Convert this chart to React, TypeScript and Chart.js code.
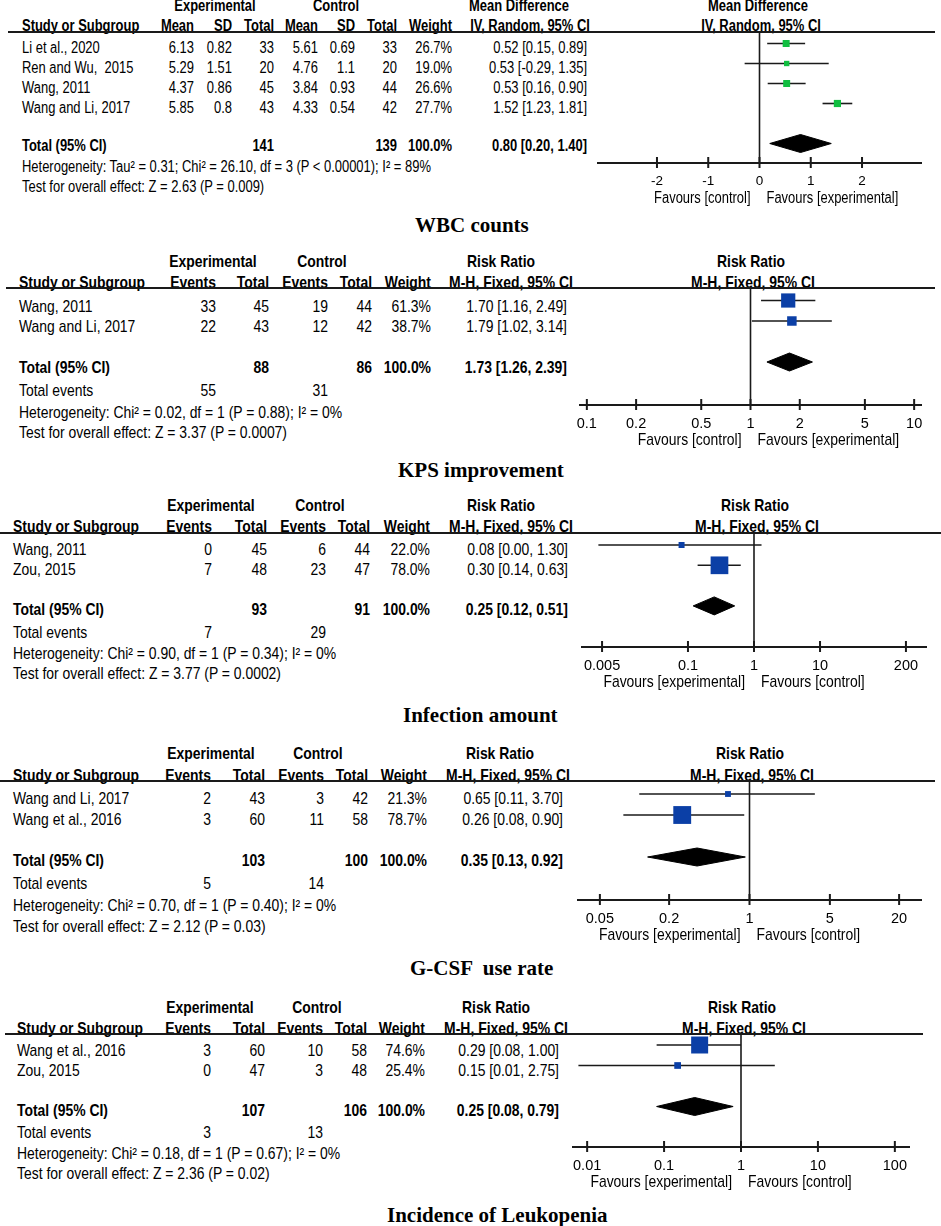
import React, { useEffect, useRef } from 'react';
import { Chart, registerables } from 'chart.js';

Chart.register(...registerables);

// ---------------- DATA ----------------
// A. WBC counts — Mean Difference (IV, Random, 95% CI)
const wbcStudies = ['Li et al., 2020', 'Ren and Wu,  2015', 'Wang, 2011', 'Wang and Li, 2017'];
const wbcExpMean = [6.13, 5.29, 4.37, 5.85];
const wbcExpSD = [0.82, 1.51, 0.86, 0.8];
const wbcExpN = [33, 20, 45, 43];
const wbcCtlMean = [5.61, 4.76, 3.84, 4.33];
const wbcCtlSD = [0.69, 1.1, 0.93, 0.54];
const wbcCtlN = [33, 20, 44, 42];
const wbcWeight = [26.7, 19.0, 26.6, 27.7];
const wbcEst = [0.52, 0.53, 0.53, 1.52];
const wbcLow = [0.15, -0.29, 0.16, 1.23];
const wbcHigh = [0.89, 1.35, 0.9, 1.81];
const wbcPooled = [0.8, 0.2, 1.4];
const wbcTotalN = [141, 139];
const wbcTicks = [-2, -1, 0, 1, 2];
const wbcStats = [
  'Heterogeneity: Tau² = 0.31; Chi² = 26.10, df = 3 (P < 0.00001); I² = 89%',
  'Test for overall effect: Z = 2.63 (P = 0.009)',
];

// B. KPS improvement — Risk Ratio (M-H, Fixed)
const kpsStudies = ['Wang, 2011', 'Wang and Li, 2017'];
const kpsExpEv = [33, 22];
const kpsExpN = [45, 43];
const kpsCtlEv = [19, 12];
const kpsCtlN = [44, 42];
const kpsWeight = [61.3, 38.7];
const kpsEst = [1.7, 1.79];
const kpsLow = [1.16, 1.02];
const kpsHigh = [2.49, 3.14];
const kpsPooled = [1.73, 1.26, 2.39];
const kpsTotalN = [88, 86];
const kpsTotalEv = [55, 31];
const kpsTicks = [0.1, 0.2, 0.5, 1, 2, 5, 10];
const kpsStats = [
  'Heterogeneity: Chi² = 0.02, df = 1 (P = 0.88); I² = 0%',
  'Test for overall effect: Z = 3.37 (P = 0.0007)',
];

// C. Infection amount
const infStudies = ['Wang, 2011', 'Zou, 2015'];
const infExpEv = [0, 7];
const infExpN = [45, 48];
const infCtlEv = [6, 23];
const infCtlN = [44, 47];
const infWeight = [22.0, 78.0];
const infEst = [0.08, 0.3];
const infLow = [0.0044, 0.14];
const infHigh = [1.3, 0.63];
const infPooled = [0.25, 0.12, 0.51];
const infTotalN = [93, 91];
const infTotalEv = [7, 29];
const infTicks = [0.005, 0.1, 1, 10, 200];
const infStats = [
  'Heterogeneity: Chi² = 0.90, df = 1 (P = 0.34); I² = 0%',
  'Test for overall effect: Z = 3.77 (P = 0.0002)',
];

// D. G-CSF use rate
const gcsfStudies = ['Wang and Li, 2017', 'Wang et al., 2016'];
const gcsfExpEv = [2, 3];
const gcsfExpN = [43, 60];
const gcsfCtlEv = [3, 11];
const gcsfCtlN = [42, 58];
const gcsfWeight = [21.3, 78.7];
const gcsfEst = [0.65, 0.26];
const gcsfLow = [0.11, 0.08];
const gcsfHigh = [3.7, 0.9];
const gcsfPooled = [0.35, 0.13, 0.92];
const gcsfTotalN = [103, 100];
const gcsfTotalEv = [5, 14];
const gcsfTicks = [0.05, 0.2, 1, 5, 20];
const gcsfStats = [
  'Heterogeneity: Chi² = 0.70, df = 1 (P = 0.40); I² = 0%',
  'Test for overall effect: Z = 2.12 (P = 0.03)',
];

// E. Incidence of Leukopenia
const leuStudies = ['Wang et al., 2016', 'Zou, 2015'];
const leuExpEv = [3, 0];
const leuExpN = [60, 47];
const leuCtlEv = [10, 3];
const leuCtlN = [58, 48];
const leuWeight = [74.6, 25.4];
const leuEst = [0.29, 0.15];
const leuLow = [0.08, 0.0077];
const leuHigh = [1.0, 2.75];
const leuPooled = [0.25, 0.08, 0.79];
const leuTotalN = [107, 106];
const leuTotalEv = [3, 13];
const leuTicks = [0.01, 0.1, 1, 10, 100];
const leuStats = [
  'Heterogeneity: Chi² = 0.18, df = 1 (P = 0.67); I² = 0%',
  'Test for overall effect: Z = 2.36 (P = 0.02)',
];

// ---------------- STYLE ----------------
const SANS = '"Liberation Sans", Arial, Helvetica, sans-serif';
const SERIF = '"Liberation Serif", "Times New Roman", serif';
const GREEN = '#10be40';
const BLUE = '#0b3fa6';
const INK = '#1a1a1a';
const PADX = 30;
const AXIS_H = 54;
const DIAMOND_HALF = 9;

// ---------------- HELPERS ----------------
const pct = (w: number) => `${w.toFixed(1)}%`;
const sumPct = (ws: number[]) => pct(ws.reduce((a, b) => a + b, 0));
const fmtCI = (e: number, l: number, h: number) => `${e.toFixed(2)} [${l.toFixed(2)}, ${h.toFixed(2)}]`;
const str = (v: number) => String(v);

interface ChartSpec {
  log: boolean;
  span: number;
  ticks: number[];
  nullValue: number;
  est: number[];
  low: number[];
  high: number[];
  weight: number[];
  pooled: number[];
  color: string;
  favours: [string, string];
  axisLeft: number;
  axisRight: number;
  topY: number;
  axisY: number;
  dotRow1: number;
  dotPitch: number;
  tickFont: number;
  labFont: number;
  labSx: number;
}

interface PanelDef {
  title: string;
  titleX: number;
  titleY: number;
  fs: number;
  sx: number;
  head1Y: number;
  head2Y: number;
  lineY: number;
  lineX1: number;
  lineX2: number;
  studyX: number;
  row1Y: number;
  rowPitch: number;
  totalY: number;
  eventsY?: number;
  hetY: number;
  testY: number;
  groupCx: number[];
  colHeads: string[];
  colRight: number[];
  colCells: string[][];
  colTotals: string[];
  colEvents?: string[];
  studies: string[];
  ciHeads: string[];
  ciHeadCx: number[];
  ciRight: number;
  ciCells: string[];
  ciTotal: string;
  plotHeadCx: number[];
  stats: string[];
  chart: ChartSpec;
}

type Align = 'left' | 'right' | 'center';

function Txt(props: { x: number; y: number; text: string; align?: Align; bold?: boolean; size: number; sx: number; family?: string }) {
  const { x, y, text, align = 'left', bold = false, size, sx, family = SANS } = props;
  const tx = align === 'left' ? '0' : align === 'right' ? '-100%' : '-50%';
  return (
    <div
      style={{
        position: 'absolute',
        left: x,
        top: y,
        whiteSpace: 'pre',
        fontFamily: family,
        fontSize: size,
        fontWeight: bold ? 700 : 400,
        lineHeight: 1,
        color: '#000',
        transform: `translate(${tx}, -50%) scaleX(${sx})`,
        transformOrigin: `${align} center`,
      }}
    >
      {text}
    </div>
  );
}

function ForestChart({ s }: { s: ChartSpec }) {
  const ref = useRef<HTMLCanvasElement | null>(null);
  const L = Math.round(s.axisLeft);
  const R = Math.round(s.axisRight);
  const top = Math.round(s.topY);
  const bottom = Math.round(s.axisY);
  const w = R - L + 2 * PADX;
  const h = bottom - top + AXIS_H;

  useEffect(() => {
    if (!ref.current) return;
    const yMin = 1 - (s.dotRow1 - top) / s.dotPitch;
    const yMax = 1 + (bottom - s.dotRow1) / s.dotPitch;
    const dh = DIAMOND_HALF / s.dotPitch;
    const rows = s.est.map((_, i) => i + 1);
    const totalRow = s.est.length + 2;
    const [pe, pl, ph] = s.pooled;
    const side = (wt: number) => (1.4 + 0.209 * wt) / Math.SQRT2;

    const datasets: any[] = [
      {
        label: 'studies',
        data: s.est.map((v, i) => ({ x: v, y: rows[i] })),
        showLine: false,
        pointStyle: 'rect',
        pointRadius: s.weight.map(side),
        pointHoverRadius: s.weight.map(side),
        pointBackgroundColor: s.color,
        pointBorderColor: s.color,
        pointBorderWidth: 0,
      },
      ...s.est.map((_, i) => ({
        label: `ci${i}`,
        data: [
          { x: s.low[i], y: rows[i] },
          { x: s.high[i], y: rows[i] },
        ],
        showLine: true,
        borderColor: INK,
        borderWidth: 1.6,
        pointRadius: 0,
        pointHoverRadius: 0,
        fill: false,
      })),
      {
        label: 'pooled',
        data: [
          { x: pl, y: totalRow },
          { x: pe, y: totalRow - dh },
          { x: ph, y: totalRow },
          { x: pe, y: totalRow + dh },
          { x: pl, y: totalRow },
        ],
        showLine: true,
        borderColor: '#000',
        borderWidth: 1,
        backgroundColor: '#000',
        fill: 'shape',
        pointRadius: 0,
        pointHoverRadius: 0,
      },
    ];

    const decor = {
      id: 'forestDecor',
      beforeDatasetsDraw(chart: any) {
        const { ctx, chartArea } = chart;
        const xs = chart.scales.x;
        const xn = xs.getPixelForValue(s.nullValue);
        ctx.save();
        ctx.strokeStyle = INK;
        ctx.lineWidth = 1.6;
        ctx.beginPath();
        ctx.moveTo(xn, chartArea.top);
        ctx.lineTo(xn, chartArea.bottom);
        ctx.stroke();
        ctx.lineWidth = 2;
        ctx.beginPath();
        ctx.moveTo(xs.left, chartArea.bottom);
        ctx.lineTo(xs.right, chartArea.bottom);
        for (const t of xs.ticks) {
          const px = xs.getPixelForValue(t.value);
          ctx.moveTo(px, chartArea.bottom - 6);
          ctx.lineTo(px, chartArea.bottom + 5);
        }
        ctx.stroke();
        ctx.fillStyle = '#000';
        ctx.font = `${s.labFont}px ${SANS}`;
        ctx.textBaseline = 'middle';
        const fy = chartArea.bottom + 35.5;
        ctx.save();
        ctx.translate(xn - 9, fy);
        ctx.scale(s.labSx, 1);
        ctx.textAlign = 'right';
        ctx.fillText(s.favours[0], 0, 0);
        ctx.restore();
        ctx.save();
        ctx.translate(xn + 7, fy);
        ctx.scale(s.labSx, 1);
        ctx.textAlign = 'left';
        ctx.fillText(s.favours[1], 0, 0);
        ctx.restore();
        ctx.restore();
      },
    };

    const chart = new Chart(ref.current, {
      type: 'scatter',
      data: { datasets },
      options: {
        animation: false,
        responsive: false,
        devicePixelRatio: 1,
        events: [],
        layout: { autoPadding: false, padding: { left: PADX, right: PADX, top: 0, bottom: 0 } },
        plugins: { legend: { display: false }, tooltip: { enabled: false } },
        scales: {
          x: {
            type: s.log ? 'logarithmic' : 'linear',
            min: s.log ? Math.pow(10, -s.span) : -s.span,
            max: s.log ? Math.pow(10, s.span) : s.span,
            bounds: 'data',
            position: 'bottom',
            grid: { display: false, drawTicks: false },
            border: { display: false },
            ticks: {
              color: '#000',
              font: { family: SANS, size: s.tickFont },
              padding: 10,
              autoSkip: false,
              maxRotation: 0,
              minRotation: 0,
              callback: (v: any) => String(v),
            },
            afterBuildTicks: (sc: any) => {
              sc.ticks = s.ticks.map((v) => ({ value: v }));
            },
            afterFit: (sc: any) => {
              sc.height = AXIS_H;
            },
          },
          y: { type: 'linear', display: false, reverse: true, min: yMin, max: yMax, bounds: 'data' },
        },
      } as any,
      plugins: [decor],
    });
    return () => chart.destroy();
  }, [s]);

  return (
    <canvas
      ref={ref}
      width={w}
      height={h}
      style={{ position: 'absolute', left: L - PADX, top, width: w, height: h }}
    />
  );
}

function Panel({ p }: { p: PanelDef }) {
  const fs = p.fs;
  const sx = p.sx;
  const els: React.ReactNode[] = [];
  let k = 0;
  const T = (x: number, y: number, text: string, align: Align = 'left', bold = false) => {
    els.push(<Txt key={k++} x={x} y={y} text={text} align={align} bold={bold} size={fs} sx={sx} />);
  };
  T(p.groupCx[0], p.head1Y, 'Experimental', 'center', true);
  T(p.groupCx[1], p.head1Y, 'Control', 'center', true);
  T(p.studyX, p.head2Y, 'Study or Subgroup', 'left', true);
  p.colHeads.forEach((hd, i) => T(p.colRight[i], p.head2Y, hd, 'right', true));
  T(p.ciHeadCx[0], p.head1Y, p.ciHeads[0], 'center', true);
  T(p.ciHeadCx[1], p.head2Y, p.ciHeads[1], 'center', true);
  T(p.plotHeadCx[0], p.head1Y, p.ciHeads[0], 'center', true);
  T(p.plotHeadCx[1], p.head2Y, p.ciHeads[1], 'center', true);

  p.studies.forEach((st, r) => {
    const y = p.row1Y + r * p.rowPitch;
    T(p.studyX, y, st);
    p.colCells.forEach((col, c) => T(p.colRight[c], y, col[r], 'right'));
    T(p.ciRight, y, p.ciCells[r], 'right');
  });

  T(p.studyX, p.totalY, 'Total (95% CI)', 'left', true);
  p.colTotals.forEach((v, c) => {
    if (v) T(p.colRight[c], p.totalY, v, 'right', true);
  });
  T(p.ciRight, p.totalY, p.ciTotal, 'right', true);

  if (p.eventsY !== undefined && p.colEvents) {
    T(p.studyX, p.eventsY, 'Total events');
    p.colEvents.forEach((v, c) => {
      if (v) T(p.colRight[c], p.eventsY as number, v, 'right');
    });
  }
  T(p.studyX, p.hetY, p.stats[0]);
  T(p.studyX, p.testY, p.stats[1]);

  els.push(
    <div
      key={k++}
      style={{
        position: 'absolute',
        left: p.lineX1,
        top: p.lineY - 1,
        width: p.lineX2 - p.lineX1,
        height: 2,
        background: INK,
      }}
    />
  );
  els.push(<Txt key={k++} x={p.titleX} y={p.titleY} text={p.title} bold size={21} sx={1} family={SERIF} />);
  els.push(<ForestChart key={k++} s={p.chart} />);
  return <>{els}</>;
}

const rrCols = ['Events', 'Total', 'Events', 'Total', 'Weight'];

const panels: PanelDef[] = [
  {
    title: 'WBC counts', titleX: 415, titleY: 225,
    fs: 15.8, sx: 0.82,
    head1Y: 6, head2Y: 26, lineY: 32, lineX1: 8, lineX2: 935,
    studyX: 22, row1Y: 48, rowPitch: 20, totalY: 146, hetY: 167, testY: 187,
    groupCx: [215, 336],
    colHeads: ['Mean', 'SD', 'Total', 'Mean', 'SD', 'Total', 'Weight'],
    colRight: [194, 232, 274, 318, 355, 397, 452],
    colCells: [
      wbcExpMean.map(str), wbcExpSD.map(str), wbcExpN.map(str),
      wbcCtlMean.map(str), wbcCtlSD.map(str), wbcCtlN.map(str), wbcWeight.map(pct),
    ],
    colTotals: ['', '', str(wbcTotalN[0]), '', '', str(wbcTotalN[1]), sumPct(wbcWeight)],
    studies: wbcStudies,
    ciHeads: ['Mean Difference', 'IV, Random, 95% CI'],
    ciHeadCx: [518.5, 529.5],
    ciRight: 587,
    ciCells: wbcEst.map((e, i) => fmtCI(e, wbcLow[i], wbcHigh[i])),
    ciTotal: fmtCI(wbcPooled[0], wbcPooled[1], wbcPooled[2]),
    plotHeadCx: [758, 761],
    stats: wbcStats,
    chart: {
      log: false, span: 3.17, ticks: wbcTicks, nullValue: 0,
      est: wbcEst, low: wbcLow, high: wbcHigh, weight: wbcWeight, pooled: wbcPooled,
      color: GREEN, favours: ['Favours [control]', 'Favours [experimental]'],
      axisLeft: 596.7, axisRight: 922, topY: 32, axisY: 163.3, dotRow1: 43.5, dotPitch: 20,
      tickFont: 13.5, labFont: 15.8, labSx: 0.82,
    },
  },
  {
    title: 'KPS improvement', titleX: 398, titleY: 470,
    fs: 16.2, sx: 0.86,
    head1Y: 261, head2Y: 281.7, lineY: 288.3, lineX1: 6, lineX2: 935,
    studyX: 19.3, row1Y: 306, rowPitch: 20, totalY: 366.7, eventsY: 390, hetY: 411.7, testY: 431.7,
    groupCx: [213.3, 322],
    colHeads: rrCols,
    colRight: [216, 269, 328, 372, 431],
    colCells: [kpsExpEv.map(str), kpsExpN.map(str), kpsCtlEv.map(str), kpsCtlN.map(str), kpsWeight.map(pct)],
    colTotals: ['', str(kpsTotalN[0]), '', str(kpsTotalN[1]), sumPct(kpsWeight)],
    colEvents: [str(kpsTotalEv[0]), '', str(kpsTotalEv[1]), '', ''],
    studies: kpsStudies,
    ciHeads: ['Risk Ratio', 'M-H, Fixed, 95% CI'],
    ciHeadCx: [501, 511],
    ciRight: 567,
    ciCells: kpsEst.map((e, i) => fmtCI(e, kpsLow[i], kpsHigh[i])),
    ciTotal: fmtCI(kpsPooled[0], kpsPooled[1], kpsPooled[2]),
    plotHeadCx: [751, 753],
    stats: kpsStats,
    chart: {
      log: true, span: 1.048, ticks: kpsTicks, nullValue: 1,
      est: kpsEst, low: kpsLow, high: kpsHigh, weight: kpsWeight, pooled: kpsPooled,
      color: BLUE, favours: ['Favours [control]', 'Favours [experimental]'],
      axisLeft: 579, axisRight: 921.7, topY: 288.3, axisY: 405, dotRow1: 300.5, dotPitch: 20.5,
      tickFont: 14.5, labFont: 16.2, labSx: 0.86,
    },
  },
  {
    title: 'Infection amount', titleX: 403, titleY: 715,
    fs: 16.2, sx: 0.86,
    head1Y: 505, head2Y: 526, lineY: 532.7, lineX1: 0, lineX2: 941,
    studyX: 13.3, row1Y: 549.3, rowPitch: 20, totalY: 609.3, eventsY: 631.7, hetY: 652.7, testY: 672.7,
    groupCx: [210.5, 319.5],
    colHeads: rrCols,
    colRight: [211.7, 267.3, 326, 370, 430],
    colCells: [infExpEv.map(str), infExpN.map(str), infCtlEv.map(str), infCtlN.map(str), infWeight.map(pct)],
    colTotals: ['', str(infTotalN[0]), '', str(infTotalN[1]), sumPct(infWeight)],
    colEvents: [str(infTotalEv[0]), '', str(infTotalEv[1]), '', ''],
    studies: infStudies,
    ciHeads: ['Risk Ratio', 'M-H, Fixed, 95% CI'],
    ciHeadCx: [501, 510.5],
    ciRight: 568,
    ciCells: infEst.map((e, i) => fmtCI(e, infLow[i], infHigh[i])),
    ciTotal: fmtCI(infPooled[0], infPooled[1], infPooled[2]),
    plotHeadCx: [754.5, 757],
    stats: infStats,
    chart: {
      log: true, span: 2.62, ticks: infTicks, nullValue: 1,
      est: infEst, low: infLow, high: infHigh, weight: infWeight, pooled: infPooled,
      color: BLUE, favours: ['Favours [experimental]', 'Favours [control]'],
      axisLeft: 581, axisRight: 927.3, topY: 532.7, axisY: 646.7, dotRow1: 545, dotPitch: 20.3,
      tickFont: 14.5, labFont: 16.2, labSx: 0.86,
    },
  },
  {
    title: 'G-CSF  use rate', titleX: 410, titleY: 968,
    fs: 16.2, sx: 0.86,
    head1Y: 753.3, head2Y: 775, lineY: 781, lineX1: 0, lineX2: 935,
    studyX: 13.3, row1Y: 798.3, rowPitch: 21, totalY: 860, eventsY: 883.3, hetY: 905, testY: 926,
    groupCx: [210.5, 318],
    colHeads: rrCols,
    colRight: [210.7, 265, 324, 368.3, 427.3],
    colCells: [gcsfExpEv.map(str), gcsfExpN.map(str), gcsfCtlEv.map(str), gcsfCtlN.map(str), gcsfWeight.map(pct)],
    colTotals: ['', str(gcsfTotalN[0]), '', str(gcsfTotalN[1]), sumPct(gcsfWeight)],
    colEvents: [str(gcsfTotalEv[0]), '', str(gcsfTotalEv[1]), '', ''],
    studies: gcsfStudies,
    ciHeads: ['Risk Ratio', 'M-H, Fixed, 95% CI'],
    ciHeadCx: [499.5, 508],
    ciRight: 563.3,
    ciCells: gcsfEst.map((e, i) => fmtCI(e, gcsfLow[i], gcsfHigh[i])),
    ciTotal: fmtCI(gcsfPooled[0], gcsfPooled[1], gcsfPooled[2]),
    plotHeadCx: [750, 751.5],
    stats: gcsfStats,
    chart: {
      log: true, span: 1.5, ticks: gcsfTicks, nullValue: 1,
      est: gcsfEst, low: gcsfLow, high: gcsfHigh, weight: gcsfWeight, pooled: gcsfPooled,
      color: BLUE, favours: ['Favours [experimental]', 'Favours [control]'],
      axisLeft: 576.7, axisRight: 921.7, topY: 781, axisY: 900, dotRow1: 794, dotPitch: 21,
      tickFont: 14.5, labFont: 16.2, labSx: 0.86,
    },
  },
  {
    title: 'Incidence of Leukopenia', titleX: 387, titleY: 1215,
    fs: 16.2, sx: 0.86,
    head1Y: 1007.3, head2Y: 1028.3, lineY: 1034, lineX1: 5, lineX2: 923,
    studyX: 16.7, row1Y: 1050, rowPitch: 20, totalY: 1110, eventsY: 1131.7, hetY: 1153.3, testY: 1173.3,
    groupCx: [210.3, 317],
    colHeads: rrCols,
    colRight: [210.7, 265, 323.3, 366.7, 425],
    colCells: [leuExpEv.map(str), leuExpN.map(str), leuCtlEv.map(str), leuCtlN.map(str), leuWeight.map(pct)],
    colTotals: ['', str(leuTotalN[0]), '', str(leuTotalN[1]), sumPct(leuWeight)],
    colEvents: [str(leuTotalEv[0]), '', str(leuTotalEv[1]), '', ''],
    studies: leuStudies,
    ciHeads: ['Risk Ratio', 'M-H, Fixed, 95% CI'],
    ciHeadCx: [496, 505.5],
    ciRight: 559.3,
    ciCells: leuEst.map((e, i) => fmtCI(e, leuLow[i], leuHigh[i])),
    ciTotal: fmtCI(leuPooled[0], leuPooled[1], leuPooled[2]),
    plotHeadCx: [741.7, 744],
    stats: leuStats,
    chart: {
      log: true, span: 2.197, ticks: leuTicks, nullValue: 1,
      est: leuEst, low: leuLow, high: leuHigh, weight: leuWeight, pooled: leuPooled,
      color: BLUE, favours: ['Favours [experimental]', 'Favours [control]'],
      axisLeft: 571.7, axisRight: 910, topY: 1034, axisY: 1146.7, dotRow1: 1045, dotPitch: 20.5,
      tickFont: 14.5, labFont: 16.2, labSx: 0.86,
    },
  },
];

export default function App() {
  return (
    <div
      style={{
        position: 'absolute',
        left: 0,
        top: 0,
        width: 941,
        height: 1226,
        background: '#fff',
        overflow: 'hidden',
      }}
    >
      {panels.map((p, i) => (
        <Panel key={i} p={p} />
      ))}
    </div>
  );
}
